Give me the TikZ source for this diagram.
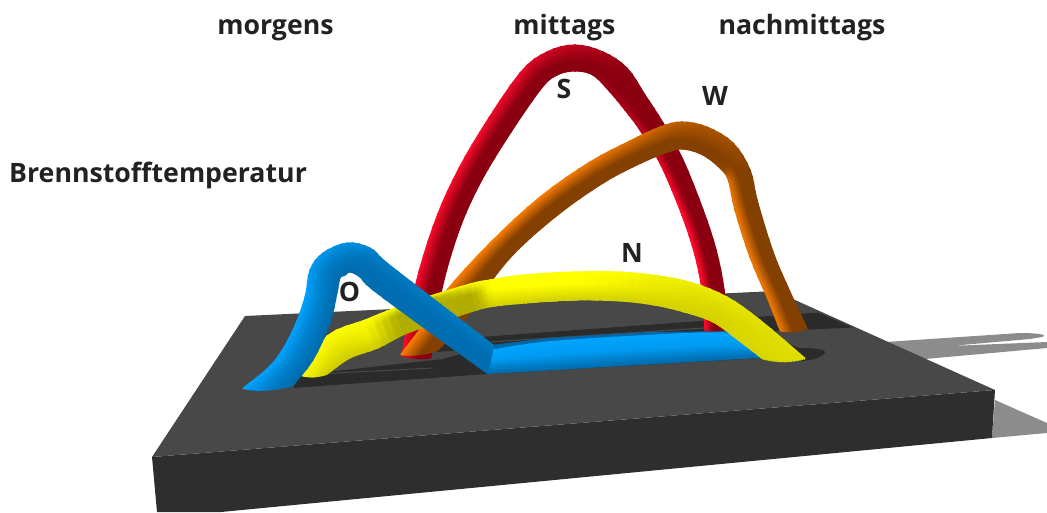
\documentclass[tikz,border=0pt]{standalone}
\usepackage{fontspec}
\setmainfont{Open Sans}
\definecolor{slabtop}{HTML}{484848}
\definecolor{slabfront}{HTML}{2E2E2E}
\definecolor{groove}{HTML}{2B2B2B}
\definecolor{shadowgray}{HTML}{8C8C8C}
\definecolor{inktext}{HTML}{222222}
\definecolor{redA}{HTML}{FF0A2D}
\definecolor{redD}{HTML}{8A0010}
\definecolor{orA}{HTML}{FF8000}
\definecolor{orD}{HTML}{844000}
\definecolor{yeA}{HTML}{FFFF00}
\definecolor{yeD}{HTML}{B0AC00}
\definecolor{blA}{HTML}{00A4FF}
\definecolor{blD}{HTML}{0068A8}
\def\nstrips{24}
\def\nsub{4}
\newcommand\stor[2]{\expandafter\xdef\csname#1\endcsname{#2}}
\newcommand\getv[1]{\csname#1\endcsname}
% #1 bright colour, #2 dark colour, #3 sections x1/y1/x2/y2/bow/v0/vm/v1/f
\newcommand\tube[3]{%
 \gdef\ns{0}%
 \foreach \pa/\pb/\pc/\pd/\pe/\pf/\pg/\ph/\pj in {#3}{%
  \pgfmathtruncatemacro\nn{\ns+1}\xdef\ns{\nn}%
  \stor{Sa\ns}{\pa}\stor{Sb\ns}{\pb}\stor{Sc\ns}{\pc}\stor{Sd\ns}{\pd}\stor{Se\ns}{\pe}%
  \stor{Sf\ns}{\pf}\stor{Sg\ns}{\pg}\stor{Sh\ns}{\ph}\stor{Sj\ns}{\pj}%
 }%
 \pgfmathtruncatemacro\nm{\ns-1}%
 \pgfmathtruncatemacro\nl{\ns+1}%
 \foreach \k in {1,...,\nstrips}{%
  \pgfmathsetmacro\tval{(\k-0.5)/\nstrips}%
  \foreach \i in {1,...,\ns}{%
   \edef\qa{\getv{Sa\i}}\edef\qb{\getv{Sb\i}}\edef\qc{\getv{Sc\i}}\edef\qd{\getv{Sd\i}}\edef\qe{\getv{Se\i}}%
   \edef\qf{\getv{Sf\i}}\edef\qg{\getv{Sg\i}}\edef\qh{\getv{Sh\i}}\edef\qj{\getv{Sj\i}}%
   \pgfmathsetmacro\px{\qa+(\qc-\qa)*\tval}%
   \pgfmathsetmacro\py{\qb+(\qd-\qb)*\tval+4*\qe*\tval*(1-\tval)}%
   \pgfmathsetmacro\vv{\tval<\qj ? \qf+(\qg-\qf)*\tval/\qj : \qg+(\qh-\qg)*(\tval-\qj)/(1-\qj)}%
   \stor{X\i}{\px}\stor{Y\i}{\py}\stor{V\i}{\vv}%
  }%
  \stor{X0}{\getv{X1}}\stor{Y0}{\getv{Y1}}\stor{X\nl}{\getv{X\ns}}\stor{Y\nl}{\getv{Y\ns}}%
  \foreach \i in {1,...,\nm}{%
   \pgfmathtruncatemacro\im{\i-1}\pgfmathtruncatemacro\ip{\i+1}\pgfmathtruncatemacro\iq{\i+2}%
   \edef\xo{\getv{X\im}}\edef\xa{\getv{X\i}}\edef\xb{\getv{X\ip}}\edef\xc{\getv{X\iq}}%
   \edef\yo{\getv{Y\im}}\edef\ya{\getv{Y\i}}\edef\yb{\getv{Y\ip}}\edef\yc{\getv{Y\iq}}%
   \edef\va{\getv{V\i}}\edef\vb{\getv{V\ip}}%
   \xdef\prevx{\xa}\xdef\prevy{\ya}%
   \foreach \u in {1,...,\nsub}{%
    \pgfmathsetmacro\uu{\u/\nsub}%
    \pgfmathsetmacro\cx{0.5*(2*\xa+(\xb-\xo)*\uu+(2*\xo-5*\xa+4*\xb-\xc)*\uu*\uu+(3*\xa-\xo-3*\xb+\xc)*\uu*\uu*\uu)}%
    \pgfmathsetmacro\cy{0.5*(2*\ya+(\yb-\yo)*\uu+(2*\yo-5*\ya+4*\yb-\yc)*\uu*\uu+(3*\ya-\yo-3*\yb+\yc)*\uu*\uu*\uu)}%
    \pgfmathsetmacro\cv{\va+(\vb-\va)*(\u-0.5)/\nsub}%
    \draw[tubestrip,color=#1!\cv!#2] (\prevx,\prevy) -- (\cx,\cy);%
    \xdef\prevx{\cx}\xdef\prevy{\cy}%
   }%
  }%
 }}
\tikzset{
 tubestrip/.style={line width=2.2pt,line cap=rect},
 label/.style={font=\bfseries\fontsize{26.7}{26.7}\selectfont,text=inktext,inner sep=0pt}
}
\begin{document}
\begin{tikzpicture}[x=1pt,y=-1pt]
\useasboundingbox (0,0) rectangle (1047,512);
% shadows
\fill[shadowgray] (995,400) -- (1047,423) -- (1047,433) -- (992,438) -- cycle;
\fill[shadowgray] (885,342) -- (1020,333) .. controls (1040,333) and (1048,335) .. (1042,337) -- (1030,339) -- (950,346) -- (1047,342) -- (1047,348) -- (925,359) -- cycle;
% slab
\fill[slabfront] (152,457) -- (995,390) -- (992,438) -- (221,512) -- (157,512) -- cycle;
\fill[slabtop] (245,316) -- (775,291) -- (995,390) -- (152,457) -- cycle;
% grooves
\fill[groove] (818,312.5) -- (853,327.5) -- (760,332) -- (490,348) -- (435,352) -- (435,342) -- (480,337) -- cycle;
\fill[groove] (293,388) -- (300,376) -- (327,372) -- (443,359) -- (500,343) -- (745,330) -- (800,348) .. controls (812,348) and (825,349) .. (825,352) .. controls (825,356) and (812,361) .. (800,361) -- (762,358) -- (487,374) -- cycle;
\draw[slabtop,line width=1.2pt] (490,342) -- (720,327);
\draw[slabtop,line width=1pt] (326,373.5) -- (433,368);
% red arch
\tube{redA}{redD}{402/355/431/357/2/100/0/0/.55, 415/287/441/293/0/100/0/0/.55, 433/227/457/236/0/100/0/0/.55, 453/180/476/191/0/100/0/0/.55, 480/132/502/146/0/100/0/0/.55, 520/73/540/90/0/85/0/0/.6, 547/52/557/75/0/65/0/0/.65, 575/45/575/71/0/45/0/0/.7, 603/52/593/75/0/30/0/0/.7, 627/68/610/92/0/5/0/15/.7, 645/95/625/110/0/0/0/30/.7, 663/123/640/130/0/0/0/45/.7, 683/160/661/165/0/0/0/70/.65, 703/210/682/215/0/0/0/100/.6, 716/250/695/255/0/0/0/100/.6, 724/290/702/290/0/0/0/100/.6, 727/332/705/330/1/0/0/100/.7}
% orange arch
\tube{orA}{orD}{401/354/437/350/2/100/0/0/.55, 423/325/450/338/0/100/0/0/.55, 445/292/470/312/0/100/0/0/.55, 490/243/508/260/0/100/0/0/.55, 540/197/555/217/0/100/0/0/.55, 590/162/603/183/0/90/0/0/.6, 630/141/641/163/0/75/0/0/.6, 660/127/668/152/0/60/0/0/.65, 682/122/683/149/0/45/0/0/.7, 707/127/703/155/0/35/0/0/.7, 733/143/722/170/0/25/0/5/.7, 750/170/729/182/0/0/0/70/.6, 757/200/735/210/0/0/0/85/.55, 773/252/750/257/0/0/0/85/.55, 790/292/767/297/0/0/0/85/.55, 807/328/780/330/2/0/0/85/.55}
% flat blue part
\fill[blD] (492,345) -- (547,338) -- (650,332) -- (740,331) -- (770,355) -- (760,358) -- (487,374) -- cycle;
\tube{blA}{blD}{493/350/488/373/0/100/85/10/.5, 547/342/545/370/0/100/85/10/.5, 637/336/637/364/0/100/85/10/.5, 723/333/723/359/0/100/85/10/.5, 750/342/755/357/0/100/85/10/.5, 768/358/762/358/0/100/85/10/.5}
% yellow arch
\tube{yeA}{yeD}{302/375/328/373/2/100/70/40/.5, 327/336/350/358/0/100/70/40/.5, 365/320/378/348/0/100/75/40/.6, 395/308/405/334/0/100/0/0/.3, 427/297/437/323/0/100/0/0/.15, 470/284/477/310/0/100/0/0/.4, 490/280/495/306/0/100/100/45/.4, 523/275/526/303/0/100/100/45/.45, 573/272/573/300/0/100/100/45/.45, 620/272/620/301/0/100/85/45/.5, 660/276/654/305/0/85/70/45/.5, 693/283/684/312/0/80/60/45/.5, 727/297/713/322/0/75/55/45/.5, 760/320/738/340/0/65/55/50/.5, 805/358/762/358/3/60/55/50/.5}
% blue arch
\tube{blA}{blD}{243/388/293/385/3/100/40/5/.5, 273/363/313/360/0/100/40/5/.5, 293/330/330/323/0/100/40/5/.5, 305/297/337/293/0/100/40/5/.5, 310/270/340/278/0/90/35/5/.5, 323/253/345/275/0/80/30/5/.5, 347/243/350/272/0/70/25/5/.5, 370/248/360/277/0/50/15/10/.5, 387/263/373/290/0/30/10/10/.55, 440/304/430/332/0/30/10/10/.55, 493/345/487/373/0/30/10/10/.55}
% labels
\node[label,anchor=base] (morgens) at (275.5,34) {morgens};
\node[label,anchor=base] (mittags) at (564.5,34) {mittags};
\node[label,anchor=base] (nachmittags) at (802,34) {nachmittags};
\node[label,anchor=base west] (brenn) at (9,182) {Brennstofftemperatur};
\node[label,anchor=base] (lblO) at (349.5,301) {O};
\node[label,anchor=base] (lblS) at (564,98) {S};
\node[label,anchor=base] (lblW) at (715,105) {W};
\node[label,anchor=base] (lblN) at (632,262) {N};
\end{tikzpicture}
\end{document}
